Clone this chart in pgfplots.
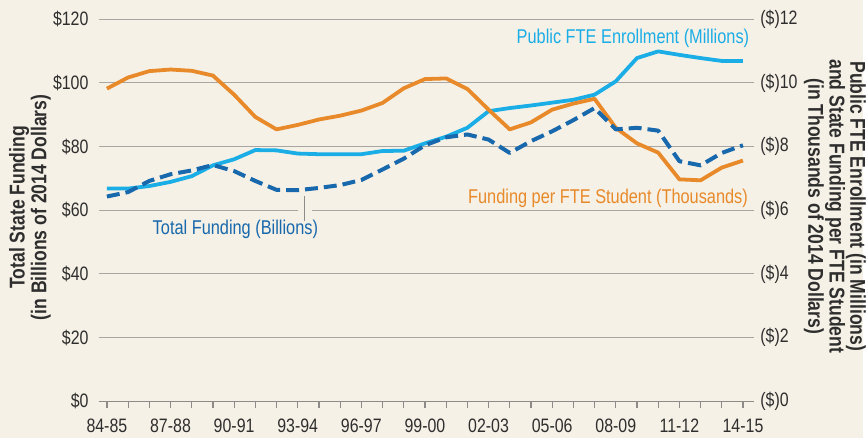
\documentclass[border=0pt]{standalone}
\usepackage{fontspec}
\setmainfont{Liberation Sans}[FakeStretch=0.82]
\usepackage{pgfplots}
\pgfplotsset{compat=1.18}

\definecolor{bgcol}{HTML}{F6F1E6}
\definecolor{gridcol}{HTML}{A8A6A2}
\definecolor{axiscol}{HTML}{8E8C88}
\definecolor{txtcol}{HTML}{2E2E2E}
\definecolor{orangeL}{HTML}{E8892A}
\definecolor{lightblue}{HTML}{1AADE6}
\definecolor{darkblue}{HTML}{1768AC}

% per FTE funding (x10) / enrollment (x10) / total funding, one row per year from 84-85
\pgfplotstableread{
yr perfte enroll total
0  98.2  66.8 64.3
1  101.7 66.8 65.7
2  103.7 67.6 69.2
3  104.2 68.9 71.3
4  103.8 70.7 72.5
5  102.3 74.1 74.2
6  96.3  76.0 72.3
7  89.3  78.9 69.2
8  85.4  78.8 66.4
9  86.8  77.8 66.3
10 88.5  77.6 67.0
11 89.7  77.6 67.9
12 91.3  77.6 69.5
13 93.7  78.6 72.8
14 98.3  78.7 76.2
15 101.2 81.0 80.4
16 101.4 83.1 82.9
17 98.1  85.9 83.8
18 91.6  91.1 82.2
19 85.4  92.1 78.0
20 87.6  92.9 81.7
21 91.6  93.8 84.8
22 93.5  94.7 88.3
23 95.0  96.3 92.1
24 85.9  100.5 85.4
25 81.0  107.8 85.9
26 78.1  109.9 85.0
27 69.7  108.8 75.4
28 69.4  107.8 74.1
29 73.4  106.9 78.0
30 75.6  106.9 80.4
}\datatable

\begin{document}
\begin{tikzpicture}
\fill[bgcol] (-99pt,-37.3pt) rectangle (767pt,402.7pt);
\begin{axis}[
    scale only axis,
    width=658pt, height=383.4pt,
    xmin=-0.39, xmax=30.53,
    ymin=0, ymax=120,
    clip=false,
    axis line style={draw=none},
    xtick={0,3,...,30},
    minor xtick={0,...,30},
    xticklabels={84-85,87-88,90-91,93-94,96-97,99-00,02-03,05-06,08-09,11-12,14-15},
    xtick pos=left,
    xtick align=outside,
    major tick length=6.5pt, minor tick length=6.5pt,
    every tick/.style={draw=axiscol, line width=1.2pt},
    ytick pos=left,
    ytick={0,20,...,120},
    ytick style={draw=none},
    yticklabels={\$0,\$20,\$40,\$60,\$80,\$100,\$120},
    ymajorgrids,
    grid style={draw=gridcol, line width=0.9pt},
    tick label style={font=\fontsize{19.5}{20}\selectfont, text=txtcol},
    yticklabel style={anchor=east, inner sep=0pt, xshift=-10pt},
    xticklabel style={anchor=base, inner sep=0pt, yshift=-24.5pt},
]
\draw[axiscol, line width=1.3pt] (axis cs:-0.39,0) -- (axis cs:30.53,0);
\addplot[lightblue, line width=3.8pt, line join=round] table[x=yr, y=enroll] {\datatable};
\addplot[orangeL, line width=3.8pt, line join=round] table[x=yr, y=perfte] {\datatable};
\addplot[darkblue, line width=4pt, dash pattern=on 13pt off 6pt, line join=round] table[x=yr, y=total] {\datatable};

% leader line for the total funding label, with the break in the gridline
\draw[bgcol, line width=3pt] (axis cs:9.01,60) -- (axis cs:9.65,60);
\draw[axiscol, line width=1pt] (axis cs:9.32,64.4) -- (axis cs:9.32,56.6);

\node[anchor=east, inner sep=0pt, text=lightblue, font=\fontsize{20}{22}\selectfont] at (axis cs:30.3,114.0) {Public FTE Enrollment (Millions)};
\node[anchor=east, inner sep=0pt, text=orangeL, font=\fontsize{20}{22}\selectfont] at (axis cs:30.24,63.8) {Funding per FTE Student (Thousands)};
\node[inner sep=0pt, text=darkblue, font=\fontsize{20}{22}\selectfont] at (axis cs:6.06,54.0) {Total Funding (Billions)};

\node[rotate=90, align=center, inner sep=0pt, text=txtcol, font=\fontsize{21.5}{22}\selectfont\bfseries] at (axis cs:-3.63,60.9) {Total State Funding\\(in Billions of 2014 Dollars)};
\node[rotate=-90, align=center, inner sep=0pt, text=txtcol, font=\fontsize{21.5}{20}\selectfont\bfseries] at (axis cs:34.34,61.25) {Public FTE Enrollment (in Millions)\\and State Funding per FTE Student\\(in Thousands of 2014 Dollars)};
\end{axis}
\begin{axis}[
    scale only axis,
    width=658pt, height=383.4pt,
    xmin=-0.39, xmax=30.53,
    ymin=0, ymax=12,
    axis line style={draw=none},
    xtick=\empty,
    ytick pos=right,
    ytick style={draw=none},
    ytick={0,2,...,12},
    yticklabels={(\$)0,(\$)2,(\$)4,(\$)6,(\$)8,(\$)10,(\$)12},
    tick label style={font=\fontsize{19.5}{20}\selectfont, text=txtcol},
    yticklabel style={anchor=west, inner sep=0pt, xshift=6pt},
]
\addplot[draw=none] coordinates {(0,0)};
\end{axis}
\end{tikzpicture}
\end{document}
